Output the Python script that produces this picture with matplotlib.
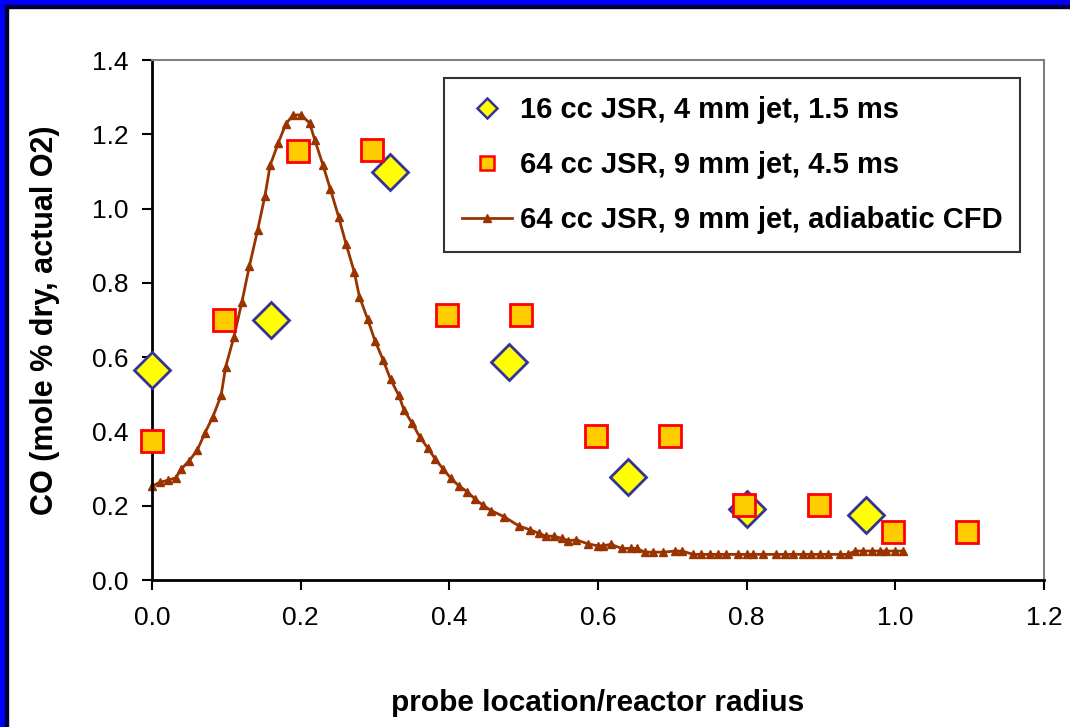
import matplotlib
matplotlib.use("Agg")
import matplotlib.pyplot as plt
from matplotlib.lines import Line2D
from matplotlib.patches import Rectangle

plt.rcParams['font.family'] = ['Liberation Sans', 'DejaVu Sans']

# 16 cc JSR, 4 mm jet, 1.5 ms
jsr16_x = [0.0, 0.16, 0.32, 0.48, 0.64, 0.80, 0.96]
jsr16_y = [0.565, 0.70, 1.098, 0.587, 0.277, 0.19, 0.175]

# 64 cc JSR, 9 mm jet, 4.5 ms
jsr64_x = [0.0, 0.097, 0.196, 0.296, 0.397, 0.497, 0.597, 0.697, 0.797, 0.897, 0.997, 1.097]
jsr64_y = [0.374, 0.70, 1.155, 1.158, 0.713, 0.713, 0.388, 0.388, 0.202, 0.202, 0.129, 0.129]

# 64 cc JSR, 9 mm jet, adiabatic CFD
cfd_x = [0.0, 0.011, 0.022, 0.032, 0.039, 0.050, 0.061, 0.071, 0.082, 0.093,
         0.099, 0.110, 0.121, 0.131, 0.142, 0.152, 0.159, 0.170, 0.180, 0.190,
         0.201, 0.212, 0.219, 0.230, 0.240, 0.251, 0.261, 0.272, 0.279, 0.290,
         0.300, 0.311, 0.321, 0.332, 0.339, 0.350, 0.360, 0.371, 0.381, 0.392,
         0.402, 0.413, 0.424, 0.435, 0.445, 0.456, 0.474, 0.494, 0.509, 0.520,
         0.530, 0.541, 0.551, 0.560, 0.571, 0.587, 0.600, 0.607, 0.617, 0.632,
         0.645, 0.652, 0.663, 0.674, 0.688, 0.704, 0.713, 0.728, 0.739, 0.750,
         0.762, 0.772, 0.789, 0.800, 0.809, 0.822, 0.840, 0.851, 0.862, 0.876,
         0.887, 0.898, 0.910, 0.925, 0.936, 0.946, 0.957, 0.968, 0.979, 0.988,
         1.000, 1.010]
cfd_y = [0.253, 0.263, 0.269, 0.275, 0.298, 0.321, 0.350, 0.395, 0.440, 0.497,
         0.573, 0.653, 0.749, 0.845, 0.941, 1.035, 1.117, 1.177, 1.228, 1.252,
         1.252, 1.230, 1.185, 1.117, 1.052, 0.978, 0.905, 0.830, 0.763, 0.703,
         0.644, 0.592, 0.540, 0.497, 0.458, 0.422, 0.386, 0.355, 0.326, 0.298,
         0.274, 0.253, 0.238, 0.217, 0.202, 0.187, 0.170, 0.145, 0.135, 0.126,
         0.118, 0.118, 0.112, 0.106, 0.108, 0.097, 0.092, 0.092, 0.096, 0.085,
         0.085, 0.085, 0.075, 0.075, 0.075, 0.078, 0.078, 0.069, 0.069, 0.069,
         0.069, 0.069, 0.069, 0.069, 0.069, 0.069, 0.069, 0.069, 0.069, 0.069,
         0.069, 0.069, 0.069, 0.069, 0.069, 0.078, 0.078, 0.078, 0.078, 0.078,
         0.078, 0.078]

labels = ["16 cc JSR, 4 mm jet, 1.5 ms",
          "64 cc JSR, 9 mm jet, 4.5 ms",
          "64 cc JSR, 9 mm jet, adiabatic CFD"]
x_ticks = [0.0, 0.2, 0.4, 0.6, 0.8, 1.0, 1.2]
y_ticks = [0.0, 0.2, 0.4, 0.6, 0.8, 1.0, 1.2, 1.4]

W, H = 1070, 727
fig = plt.figure(figsize=(W / 100, H / 100), dpi=100)
fig.patch.set_facecolor('white')
ax = fig.add_axes([152 / W, 1 - 580 / H, (1044 - 152) / W, (580 - 60) / H])

brown = '#993300'
ax.plot(cfd_x, cfd_y, color=brown, lw=2, marker='^', ms=5.5,
        mfc=brown, mec=brown, zorder=2, clip_on=False)
ax.plot(jsr16_x, jsr16_y, ls='none', marker='D', ms=18, mfc='#FFFF00',
        mec='#333399', mew=2, zorder=3, clip_on=False)
ax.plot(jsr64_x, jsr64_y, ls='none', marker='s', ms=16, mfc='#FFCC00',
        mec='#FF0000', mew=2, zorder=4, clip_on=False)

ax.set_xlim(0, 1.2)
ax.set_ylim(0, 1.4)
ax.set_xticks(x_ticks)
ax.set_xticklabels([f"{v:.1f}" for v in x_ticks])
ax.set_yticks(y_ticks)
ax.set_yticklabels([f"{v:.1f}" for v in y_ticks])
ax.tick_params(axis='both', direction='out', length=7, width=1.5,
               labelsize=19, colors='black')
ax.tick_params(axis='y', pad=10)
ax.tick_params(axis='x', pad=12)

for s in ['left', 'bottom']:
    ax.spines[s].set_color('black')
    ax.spines[s].set_linewidth(2)
for s in ['top', 'right']:
    ax.spines[s].set_color('#808080')
    ax.spines[s].set_linewidth(1.5)

ax.set_xlabel("probe location/reactor radius", fontsize=21.5, fontweight='bold',
              labelpad=42)
ax.set_ylabel("CO (mole % dry, actual O2)", fontsize=22, fontweight='bold',
              labelpad=23)

handles = [
    Line2D([], [], ls='none', marker='D', ms=10, mfc='#FFFF00', mec='#333399', mew=1.8),
    Line2D([], [], ls='none', marker='s', ms=10, mfc='#FFCC00', mec='#FF0000', mew=1.8),
    Line2D([], [], color=brown, lw=2, marker='^', ms=5.5, mfc=brown, mec=brown),
]
leg = ax.legend(handles, labels, loc='upper right', bbox_to_anchor=(0.9735, 0.965),
                prop={'size': 21, 'weight': 'bold'}, frameon=True, fancybox=False,
                edgecolor='black', borderpad=0.62, labelspacing=0.92,
                handlelength=1.71, handletextpad=0.27, borderaxespad=0)
leg.get_frame().set_linewidth(1.5)

# blue outer frame (top and left)
fig.patches.append(Rectangle((0, 0), 5 / W, 1, transform=fig.transFigure,
                             color='#0000FF', zorder=10))
fig.patches.append(Rectangle((0, 1 - 5 / H), 1, 5 / H, transform=fig.transFigure,
                             color='#0000FF', zorder=10))
fig.patches.append(Rectangle((5 / W, 0), 3 / W, 1 - 5 / H, transform=fig.transFigure,
                             color='#000033', zorder=10))
fig.patches.append(Rectangle((5 / W, 1 - 8 / H), 1, 3 / H, transform=fig.transFigure,
                             color='#000033', zorder=10))

fig.savefig('out.png', dpi=100)
